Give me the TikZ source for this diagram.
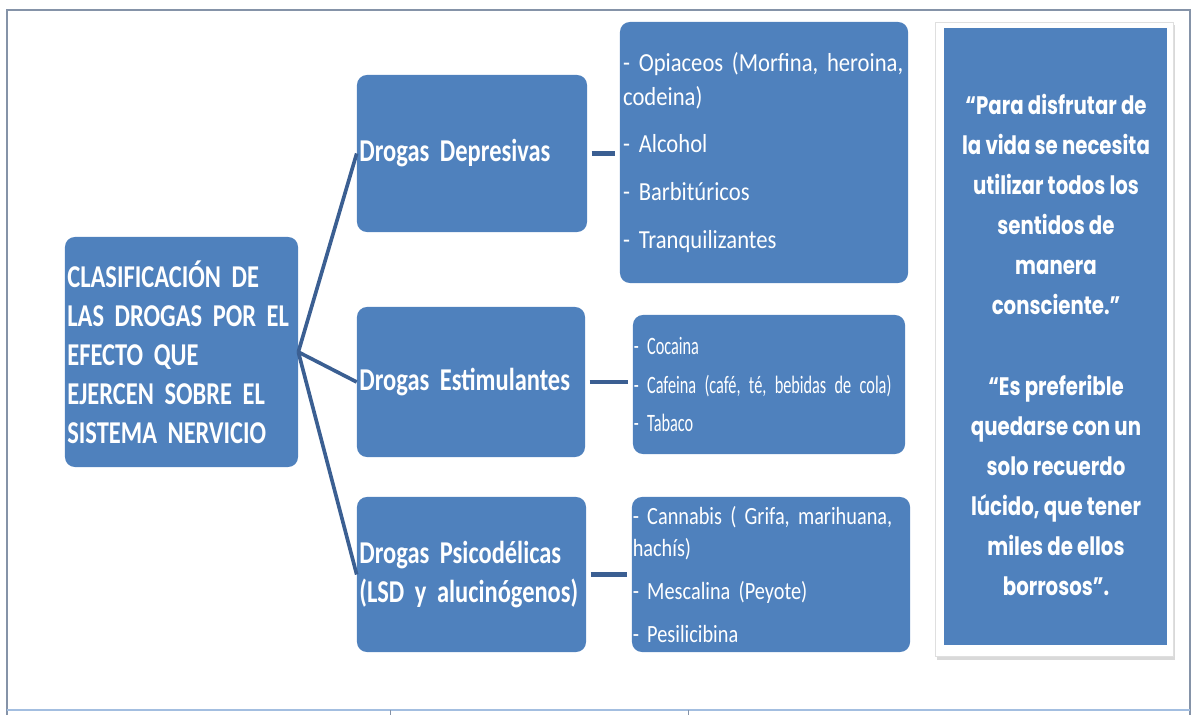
\documentclass[tikz,border=0pt]{standalone}
\usepackage{fontspec}
\setmainfont{Carlito}
\newfontfamily\capfont[FakeStretch=0.77]{Carlito}
\newfontfamily\listfont[FakeStretch=0.87]{Carlito}
\newfontfamily\smalllistfont[FakeStretch=0.82]{Carlito}
\newfontfamily\thinfont[FakeStretch=0.65]{Carlito}
\newfontfamily\quotefont[FakeStretch=0.78]{Poppins}
\usetikzlibrary{shadows}
\definecolor{boxblue}{HTML}{4F81BD}
\definecolor{linkblue}{HTML}{3B5F92}
\definecolor{framegray}{HTML}{8593A8}
\definecolor{tableblue}{HTML}{A3BEE0}

\begin{document}
\begin{tikzpicture}
[x=0.025cm,y=-0.025cm,
box/.style={fill=boxblue,rounded corners=0.25cm,text=white,inner xsep=0.06cm,inner ysep=0pt,align=left},
head/.style={box,font=\capfont\bfseries\fontsize{22.6}{27.7}\selectfont},
items/.style={box,inner xsep=0.02cm,font=\listfont\fontsize{18.5}{24}\selectfont},
link/.style={draw=linkblue,line width=2.6pt},
stub/.style={draw=linkblue,line width=3.4pt,shorten <=3pt,shorten >=3pt},]

\useasboundingbox (0,0) rectangle (1200,715);

% frame of the page
\draw[framegray,line width=1.4pt] (7,715) -- (7,10) -- (1190,10) -- (1190,715);
\draw[tableblue,line width=1.2pt] (7,710) -- (1190,710);
\draw[framegray,line width=0.6pt] (390,710) -- (390,715);
\draw[framegray,line width=0.6pt] (688,710) -- (688,715);

% root
\node (root) at (181.5,352)[head,text width=5.705cm,minimum height=5.75cm]{CLASIFICACIÓN DE\\LAS DROGAS POR EL\\EFECTO QUE\\EJERCEN SOBRE EL\\SISTEMA NERVICIO};

% kinds of drugs
\node (dep) at (472,153.5)[head,text width=5.63cm,minimum height=3.925cm]{Drogas Depresivas};
\node (est) at (471,382)[head,text width=5.58cm,minimum height=3.75cm]{Drogas Estimulantes};
\node (psi) at (471.5,574.5)[head,text width=5.605cm,minimum height=3.875cm]{Drogas Psicodélicas\\(LSD y alucinógenos)};

% examples
\node (depl) at (764,152.5)[items,inner xsep=0.08cm,text width=7.04cm,minimum height=6.525cm]{- Opiaceos (Morfina, heroina,\\codeina)\\[10pt]- Alcohol\\[10pt]- Barbitúricos\\[10pt]- Tranquilizantes};
\node (estl) at (769,384.5)[items,text width=6.76cm,minimum height=3.475cm,font=\thinfont\fontsize{17.8}{27.4}\selectfont]{- Cocaina\\- Cafeina (café, té, bebidas de cola)\\- Tabaco};
\node (psil) at (771,574.5)[items,text width=6.91cm,minimum height=3.875cm,font=\smalllistfont\fontsize{17.6}{22.8}\selectfont]{- Cannabis ( Grifa, marihuana,\\hachís)\\[7.8pt]- Mescalina (Peyote)\\[7.8pt]- Pesilicibina};

\draw[link] (root.east) -- (dep.west);
\draw[link] (root.east) -- (est.west);
\draw[link] (root.east) -- (psi.west);
\draw[stub] (dep.east) -- (dep.east -| depl.west);
\draw[stub] (est.east) -- (est.east -| estl.west);
\draw[stub] (psi.east) -- (psi.east -| psil.west);

% quotes
\node (card) at (1054,339)[draw=gray!25,fill=white,drop shadow={opacity=0.3,shadow xshift=1.5pt,shadow yshift=-2.5pt},minimum width=5.95cm,minimum height=15.85cm,inner sep=0pt]{};
\node (quote) at (1055.5,336.5)[fill=boxblue,minimum width=5.55cm,minimum height=15.425cm,inner sep=0pt]{};
\node (quotetxt) at (1056,345)[text=white,align=center,font=\quotefont\bfseries\fontsize{18}{28.5}\selectfont]{“Para disfrutar de\\la vida se necesita\\utilizar todos los\\sentidos de\\manera\\consciente.”\\[28.5pt]“Es preferible\\quedarse con un\\solo recuerdo\\lúcido, que tener\\miles de ellos\\borrosos”.};

\end{tikzpicture}
\end{document}
